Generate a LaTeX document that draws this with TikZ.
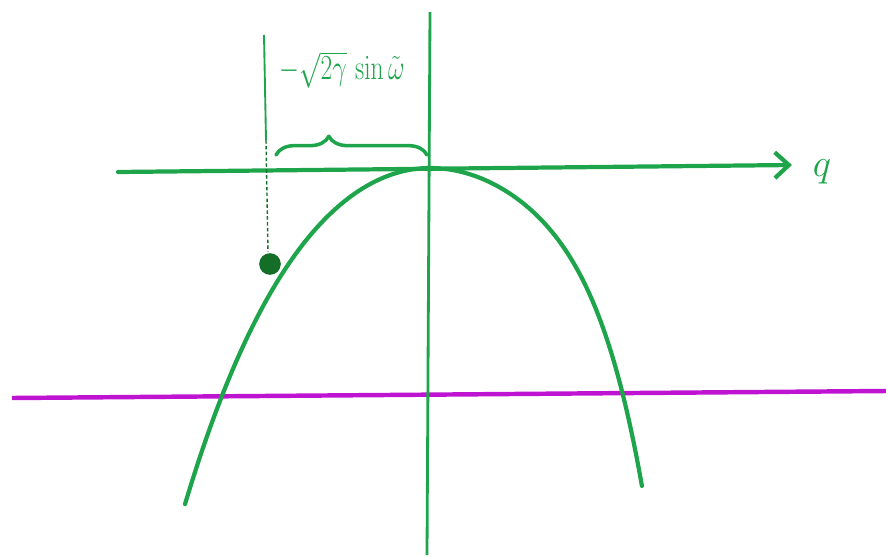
\documentclass[tikz,border=0pt]{standalone}
\usetikzlibrary{arrows.meta,decorations.pathreplacing}
\definecolor{pen}{RGB}{30,165,75}
\definecolor{darkpen}{RGB}{20,110,40}
\definecolor{mag}{RGB}{190,20,210}
\begin{document}
\begin{tikzpicture}[x=0.03cm,y=-0.03cm,
  penline/.style={draw=pen,line width=3.6pt,line cap=round,line join=round},
  lbl/.style={text=pen,font=\huge,inner sep=1pt}]
\useasboundingbox (0,0) rectangle (886,557);
% magenta line
\coordinate (m1) at (12,398);
\coordinate (m2) at (886,391);
\draw[draw=mag,line width=3.8pt] (m1) -- (m2);
% axes
\coordinate (ax1) at (118,172);
\coordinate (ax2) at (792,165);
\draw[penline,-{Straight Barb[length=12pt,width=22pt,line width=3.6pt]}] (ax1) -- (ax2);
\node[lbl] (q) at (822,172) {\scalebox{1.6}{$q$}};
\coordinate (v1) at (430,12);
\coordinate (v2) at (427,555);
\draw[draw=pen,line width=2.4pt] (v1) -- (v2);
% parabola
\draw[penline] plot[domain=0:2.45,samples=70] ({430-100*\x},{168+44*\x*\x+2*\x*\x*\x*\x});
\draw[penline] plot[domain=0:2.12,samples=70] ({430+100*\x},{168+39.5*\x*\x+1.55*\x*\x*\x*\x*\x*\x});
% dashed drop line
\coordinate (d1) at (264,35);
\coordinate (d2) at (266,140);
\coordinate (d3) at (268,252);
\draw[draw=pen,line width=1.6pt] (d1) -- (d2);
\draw[draw=darkpen,line width=1.2pt,dashed,dash pattern=on 3pt off 2pt] (d2) -- (d3);
% dot
\node[circle,fill=darkpen,minimum width=0.65cm,inner sep=0pt] (dot) at (270,264) {};
% brace
\coordinate (b1) at (276,155);
\coordinate (b2) at (427,155);
\draw[penline,line width=3pt,decorate,decoration={brace,amplitude=16pt,aspect=0.35}] (b1) -- (b2);
% label
\node[lbl] (lab) at (342,70) {\scalebox{1.05}[1.45]{$-\sqrt{2\gamma}\,\sin\tilde{\omega}$}};
\end{tikzpicture}
\end{document}
